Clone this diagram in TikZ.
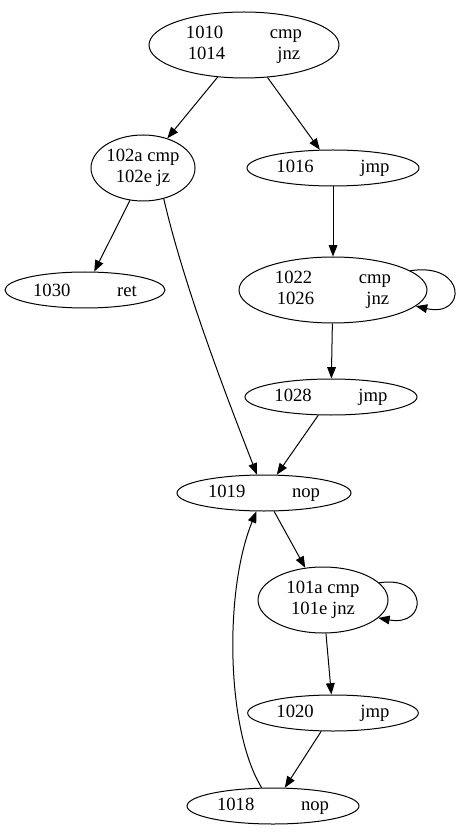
\documentclass[tikz,border=0pt]{standalone}
\usepackage{fontspec}
\setmainfont{Liberation Serif}
\usepackage{tikz}
\usetikzlibrary{shapes.geometric,arrows.meta}

\begin{document}
\begin{tikzpicture}[x=0.75pt,y=-0.75pt,line width=0.75pt,
  blk/.style={ellipse,draw,inner sep=0pt,align=center,font=\fontsize{14pt}{16pt}\selectfont},
  big/.style={blk,minimum height=49.5pt},
  small/.style={blk,minimum height=27pt},
  flow/.style={-{Triangle[length=8.5pt,width=6.5pt]}}]
\useasboundingbox (0,0) rectangle (459,837);

\node[big,minimum width=142.5pt]   (n1010) at (244,45)  {1010\hspace{2.5em}cmp\\1014\hspace{2.8em}jnz};
\node[big,minimum width=78pt]      (n102a) at (143,168) {102a cmp\\102e jz};
\node[small,minimum width=129pt]   (n1016) at (333,168) {1016\hspace{2.5em}jmp};
\node[small,minimum width=120pt]   (n1030) at (85,290)  {1030\hspace{2.5em}ret};
\node[big,minimum width=141pt]     (n1022) at (333,290) {1022\hspace{2.5em}cmp\\1026\hspace{2.8em}jnz};
\node[small,minimum width=129pt]   (n1028) at (331,397) {1028\hspace{2.5em}jmp};
\node[small,minimum width=130.5pt] (n1019) at (264,493) {1019\hspace{2.5em}nop};
\node[big,minimum width=97.5pt]    (n101a) at (323,600) {101a cmp\\101e jnz};
\node[small,minimum width=128pt]   (n1020) at (333,713) {1020\hspace{2.5em}jmp};
\node[small,minimum width=129pt]   (n1018) at (273,806) {1018\hspace{2.5em}nop};

\draw[flow] (n1010) -- (n102a);
\draw[flow] (n1010) -- (n1016);
\draw[flow] (n102a.-112) -- (n1030);
\draw[flow] (n102a.-56) .. controls (185,290) and (228,400) .. (n1019);
\draw[flow] (n1016) -- (n1022);
\draw[flow] (n1022.14) .. controls (467,262) and (467,318) .. (n1022.-11);
\draw[flow] (n1022) -- (n1028);
\draw[flow] (n1028) -- (n1019);
\draw[flow] (n1019) -- (n101a);
\draw[flow] (n101a.17) .. controls (428,575) and (428,627) .. (n101a.-18);
\draw[flow] (n101a) -- (n1020);
\draw[flow] (n1020) -- (n1018);
\draw[flow] (n1018) .. controls (226,730) and (224,590) .. (n1019);
\end{tikzpicture}
\end{document}
